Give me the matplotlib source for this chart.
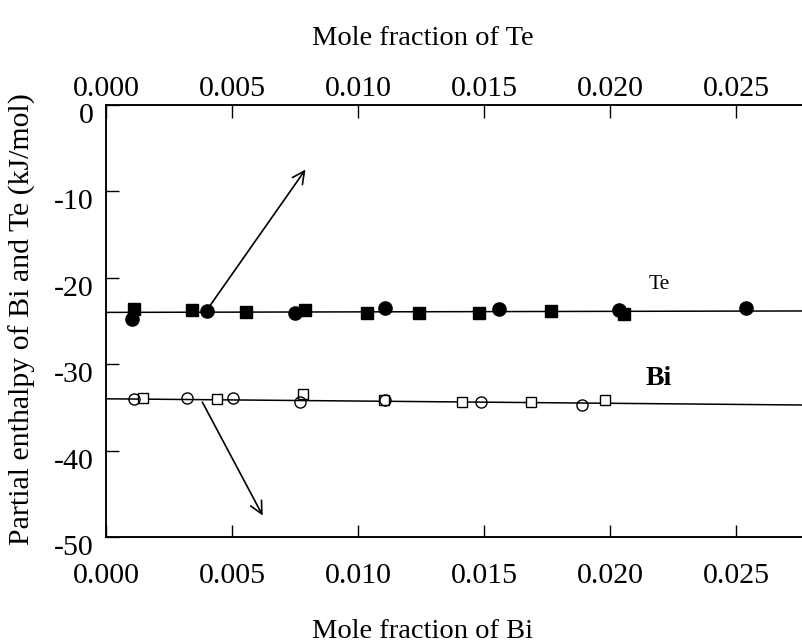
import matplotlib
matplotlib.use('Agg')
import matplotlib.pyplot as plt
from matplotlib.transforms import ScaledTranslation
import numpy as np

plt.rcParams['font.family'] = 'Liberation Serif'

# Te data (filled markers, top axis: mole fraction of Te)
te_sq_x = [0.00111, 0.00341, 0.00556, 0.0079, 0.01036, 0.01242, 0.0148, 0.01766, 0.02056]
te_sq_y = [-23.6, -23.7, -24.0, -23.7, -24.1, -24.1, -24.1, -23.8, -24.2]
te_ci_x = [0.00103, 0.00401, 0.0075, 0.01107, 0.0156, 0.02036, 0.0254]
te_ci_y = [-24.8, -23.8, -24.1, -23.5, -23.6, -23.7, -23.5]

# Bi data (open markers, bottom axis: mole fraction of Bi)
bi_sq_x = [0.00147, 0.0044, 0.00782, 0.01103, 0.01413, 0.01687, 0.0198]
bi_sq_y = [-33.9, -34.0, -33.5, -34.1, -34.4, -34.4, -34.1]
bi_ci_x = [0.00111, 0.00321, 0.00504, 0.0077, 0.01107, 0.01488, 0.01889]
bi_ci_y = [-34.0, -33.9, -33.9, -34.4, -34.1, -34.4, -34.7]

# fitted lines: intercept, slope
te_fit = (-24.0, 6.0)
bi_fit = (-34.0, -26.0)

xmax = 0.02762
xticks = [0.000, 0.005, 0.010, 0.015, 0.020, 0.025]
yticks = [0, -10, -20, -30, -40, -50]

fig = plt.figure(figsize=(8.02, 6.44), dpi=100)
ax = fig.add_axes([0.1322, 0.1661, 0.8678, 0.6708])
ax2 = ax.twiny()

for a in (ax, ax2):
    a.set_xlim(0, xmax)
    a.set_xticks(xticks)
    a.set_xticklabels(['%.3f' % t for t in xticks])
    a.spines['right'].set_visible(False)
    for s in a.spines.values():
        s.set_linewidth(1.1)
ax.set_ylim(-50, 0)
ax.set_yticks(yticks)
ax.set_yticklabels(['%d' % t for t in yticks])

ax.tick_params(axis='x', direction='in', length=9, width=1, labelsize=21.5, pad=19, top=False)
ax.tick_params(axis='y', direction='in', length=9, width=1, labelsize=21.5, pad=9, right=False)
ax2.tick_params(axis='x', direction='in', length=9, width=1, labelsize=21.5, pad=2)

# labels in the original sit a little below their ticks
off = ScaledTranslation(0, -0.08, fig.dpi_scale_trans)
for lab in ax.get_yticklabels():
    lab.set_transform(lab.get_transform() + off)

xx = np.array([0, xmax])
ax2.plot(xx, te_fit[0] + te_fit[1] * xx, color='black', lw=1.1)
ax.plot(xx, bi_fit[0] + bi_fit[1] * xx, color='black', lw=1.1)

ax2.plot(te_sq_x, te_sq_y, 's', color='black', ms=9, ls='none')
ax2.plot(te_ci_x, te_ci_y, 'o', color='black', ms=9.5, ls='none')
ax.plot(bi_sq_x, bi_sq_y, 's', mfc='white', mec='black', mew=1.0, ms=7.5, ls='none')
ax.plot(bi_ci_x, bi_ci_y, 'o', mfc='none', mec='black', mew=1.0, ms=8, ls='none')

ax.annotate('', xy=(0.00798, -7.2), xytext=(0.00401, -23.7),
            arrowprops=dict(arrowstyle='->', lw=1.2, color='black', mutation_scale=22))
ax.annotate('', xy=(0.00627, -47.8), xytext=(0.00377, -34.1),
            arrowprops=dict(arrowstyle='->', lw=1.2, color='black', mutation_scale=22))

ax.text(0.02195, -20.8, 'Te', fontsize=15.5, ha='center', va='center')
ax.text(0.02195, -31.7, 'Bi', fontsize=20, fontweight='bold', ha='center', va='center')

ax.set_xlabel('Mole fraction of Bi', fontsize=20.5)
ax.xaxis.set_label_coords(0.455, -0.19)
ax2.set_xlabel('Mole fraction of Te', fontsize=20.5)
ax2.xaxis.set_label_coords(0.455, 1.14)
ax.set_ylabel('Partial enthalpy of Bi and Te (kJ/mol)', fontsize=21.5)
ax.yaxis.set_label_coords(-0.1, 0.505)

fig.savefig('out.png', dpi=100)
